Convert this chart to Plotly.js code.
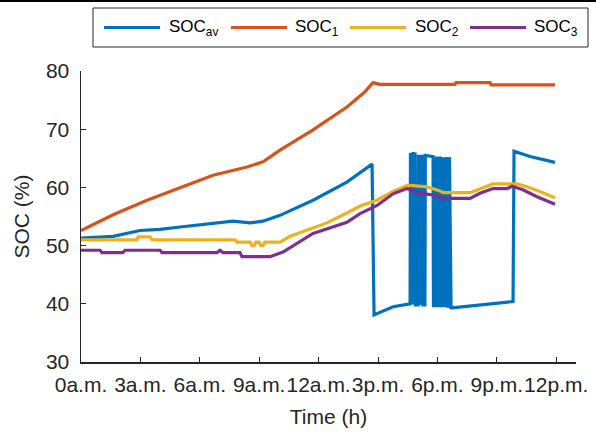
<!DOCTYPE html>
<html>
<head>
<meta charset="utf-8">
<script src="https://cdn.plot.ly/plotly-3.0.1.min.js"></script>
<style>html,body{margin:0;padding:0;background:#fff;}#chart{width:596px;height:434px;}</style>
</head>
<body>
<div id="chart"></div>
<script>
// ---- data (hours, SOC %) ----
const hoursAv = [0, 1.62, 2.98, 3.99, 5.0, 7.02, 7.68, 8.54, 9.19, 10.05, 11.72, 13.43, 14.70, 14.80, 15.76, 16.62, 16.64, 16.68, 16.72, 16.76, 16.79, 16.83, 16.87, 16.89, 17.02, 17.04, 17.09, 17.14, 17.19, 17.24, 17.27, 17.37, 17.39, 17.78, 17.80, 17.88, 17.93, 18.00, 18.08, 18.15, 18.23, 18.31, 18.38, 18.46, 18.54, 18.61, 18.69, 18.74, 19.65, 20.66, 21.82, 21.87, 22.68, 23.94];
const socAv = [51.3, 51.6, 52.6, 52.8, 53.2, 54.0, 54.2, 53.9, 54.2, 55.2, 57.8, 60.9, 64.0, 38.1, 39.5, 40.0, 65.9, 39.9, 66.0, 39.9, 66.1, 39.9, 66.0, 39.8, 39.8, 65.6, 39.8, 65.6, 39.8, 65.6, 39.8, 39.8, 65.5, 65.3, 39.4, 65.3, 39.4, 65.3, 39.4, 65.3, 39.4, 65.2, 39.4, 65.2, 39.3, 65.2, 39.3, 39.3, 39.6, 40.0, 40.4, 66.2, 65.3, 64.3];

const hours1 = [0, 1.62, 3.33, 5.0, 6.67, 8.38, 9.19, 10.05, 11.72, 13.43, 14.30, 14.75, 15.10, 18.89, 18.94, 20.66, 20.71, 23.94];
const soc1 = [52.6, 55.3, 57.8, 59.9, 62.1, 63.5, 64.4, 66.4, 69.9, 73.8, 76.3, 78.0, 77.7, 77.7, 78.0, 78.0, 77.6, 77.6];

const hours2 = [0, 2.83, 2.88, 3.48, 3.59, 7.78, 7.88, 8.54, 8.64, 8.74, 8.84, 8.99, 9.09, 9.19, 9.29, 10.05, 10.56, 11.72, 12.42, 13.43, 14.09, 14.95, 15.76, 16.52, 17.47, 18.13, 18.28, 19.65, 20.15, 20.81, 22.02, 22.53, 23.18, 23.94];
const soc2 = [51.0, 51.0, 51.5, 51.5, 51.0, 51.0, 50.6, 50.6, 50.0, 50.0, 50.6, 50.6, 50.0, 50.0, 50.6, 50.6, 51.6, 53.0, 53.9, 55.6, 56.8, 57.8, 59.3, 60.4, 60.1, 59.4, 59.1, 59.1, 59.8, 60.6, 60.6, 60.1, 59.3, 58.2];

const hours3 = [0, 0.96, 1.06, 2.12, 2.22, 3.99, 4.09, 6.87, 7.02, 7.17, 8.03, 8.13, 9.55, 10.20, 11.72, 13.43, 14.09, 14.95, 15.76, 16.46, 16.97, 17.78, 18.28, 19.65, 20.15, 20.81, 21.52, 21.77, 22.32, 23.03, 23.94];
const soc3 = [49.2, 49.2, 48.8, 48.8, 49.2, 49.2, 48.8, 48.8, 49.2, 48.8, 48.8, 48.1, 48.1, 48.9, 52.1, 54.0, 55.5, 56.9, 58.9, 59.8, 59.1, 58.7, 58.1, 58.1, 59.0, 59.8, 59.8, 60.2, 59.6, 58.4, 57.1];

const seriesNames = ['SOC<sub>av</sub>', 'SOC<sub>1</sub>', 'SOC<sub>2</sub>', 'SOC<sub>3</sub>'];
const seriesColors = ['#0072BD', '#D95319', '#EDB120', '#7E2F8E'];
const tickHours = [0, 3, 6, 9, 12, 15, 18, 21, 24];
const tickLabels = ['0a.m.', '3a.m.', '6a.m.', '9a.m.', '12a.m.', '3p.m.', '6p.m.', '9p.m.', '12p.m.'];
const yTicks = [30, 40, 50, 60, 70, 80];

// ---- layout geometry (pixels) ----
const W = 596, H = 434;
const M = {l: 81, r: 20, t: 71, b: 72};
const PW = W - M.l - M.r, PH = H - M.t - M.b;
const px = x => (x - M.l) / PW;
const py = y => (H - M.b - y) / PH;
const FONT = 'Liberation Sans, Arial, Helvetica, sans-serif';
const TXT = '#262626';

const xs = [hoursAv, hours1, hours2, hours3];
const ys = [socAv, soc1, soc2, soc3];
const traces = xs.map((x, i) => ({
  x: x, y: ys[i], type: 'scatter', mode: 'lines', name: seriesNames[i],
  line: {color: seriesColors[i], width: 3.2}, showlegend: false, hoverinfo: 'skip'
}));

// custom legend (MATLAB style: long line samples)
const legendBox = {x0: 93, x1: 588, y0: 8, y1: 47};
const sampleStart = [104, 231, 350, 470];
const sampleLen = 56;
const textStart = [167, 293, 413, 532];
const legendY = 27.5;

const shapes = [
  {type: 'line', xref: 'paper', yref: 'paper', x0: px(0), x1: px(W), y0: py(1), y1: py(1),
   line: {color: '#000', width: 2}},
  {type: 'rect', xref: 'paper', yref: 'paper', x0: px(legendBox.x0), x1: px(legendBox.x1),
   y0: py(legendBox.y0), y1: py(legendBox.y1), line: {color: '#262626', width: 1}, fillcolor: '#fff'}
];
const annotations = [];
seriesNames.forEach((n, i) => {
  shapes.push({type: 'line', xref: 'paper', yref: 'paper', x0: px(sampleStart[i]), x1: px(sampleStart[i] + sampleLen),
    y0: py(legendY), y1: py(legendY), line: {color: seriesColors[i], width: 3}});
  annotations.push({xref: 'paper', yref: 'paper', x: px(textStart[i]), y: py(legendY), xanchor: 'left', yanchor: 'middle',
    text: n, showarrow: false, font: {family: FONT, size: 17, color: '#000'}});
});

const layout = {
  width: W, height: H,
  margin: M,
  paper_bgcolor: '#fff', plot_bgcolor: '#fff',
  font: {family: FONT, color: TXT},
  xaxis: {
    range: [0, 25], tickvals: tickHours, ticktext: tickLabels, tickangle: 0,
    ticks: 'inside', ticklen: 5, tickwidth: 1, tickcolor: TXT,
    showline: true, linecolor: TXT, linewidth: 1.5, showgrid: false, zeroline: false,
    tickfont: {family: FONT, size: 21, color: TXT}, ticklabelstandoff: 3,
    title: {text: 'Time (h)', font: {family: FONT, size: 21, color: TXT}, standoff: 14}
  },
  yaxis: {
    range: [30, 80], tickvals: yTicks,
    ticks: 'inside', ticklen: 5, tickwidth: 1, tickcolor: TXT,
    showline: true, linecolor: TXT, linewidth: 1.5, showgrid: false, zeroline: false,
    tickfont: {family: FONT, size: 21, color: TXT}, ticklabelstandoff: 6,
    title: {text: 'SOC (%)', font: {family: FONT, size: 21, color: TXT}, standoff: 10}
  },
  shapes: shapes,
  annotations: annotations,
  showlegend: false
};

Plotly.newPlot('chart', traces, layout, {displayModeBar: false, staticPlot: true});
</script>
</body>
</html>
